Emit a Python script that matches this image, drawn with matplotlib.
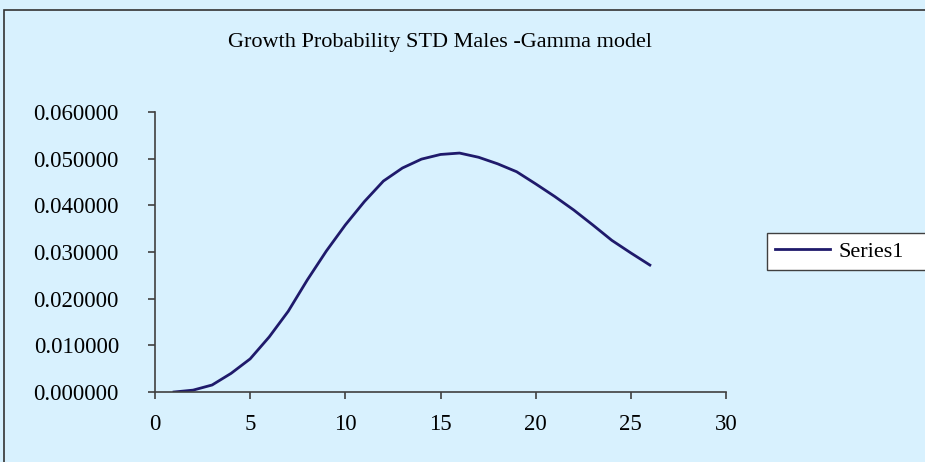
import matplotlib
matplotlib.use("Agg")
import matplotlib.pyplot as plt
from matplotlib.patches import Rectangle

# values
x_values = list(range(1, 27))
series1 = [
    0.0000, 0.0004, 0.0015, 0.0040, 0.0071, 0.0118, 0.0173, 0.0240,
    0.0302, 0.0358, 0.0408, 0.0452, 0.0480, 0.0499, 0.0509, 0.0512,
    0.0503, 0.0489, 0.0472, 0.0446, 0.0419, 0.0390, 0.0358, 0.0325,
    0.0298, 0.0272,
]
x_ticks = [0, 5, 10, 15, 20, 25, 30]
y_ticks = [0.0, 0.01, 0.02, 0.03, 0.04, 0.05, 0.06]

BG = "#D8F1FE"
LINE = "#1F1A6B"

plt.rcParams["font.family"] = ["Liberation Serif", "DejaVu Serif"]

fig = plt.figure(figsize=(9.25, 4.62), dpi=100, facecolor=BG)

# outer chart frame (cut off on the right and bottom, as in the reference)
fig.patches.append(Rectangle((4 / 925, -0.05), 1.0, 1 - 10 / 462 + 0.05,
                             transform=fig.transFigure, fill=False,
                             edgecolor="#333333", linewidth=1.2))

ax = fig.add_axes([155 / 925, 1 - 392 / 462, (726 - 155) / 925, (392 - 112) / 462])
ax.set_facecolor(BG)

ax.plot(x_values, series1, color=LINE, linewidth=2.0, label="Series1")

ax.set_xlim(0, 30)
ax.set_ylim(0, 0.06)
ax.set_xticks(x_ticks)
ax.set_yticks(y_ticks)
ax.set_yticklabels([f"{v:.6f}" for v in y_ticks])

for side in ("top", "right"):
    ax.spines[side].set_visible(False)
for side in ("left", "bottom"):
    ax.spines[side].set_color("#404040")
    ax.spines[side].set_linewidth(1.2)

ax.tick_params(axis="both", labelsize=16.5, colors="#404040",
               labelcolor="black", length=5, width=1.2)
ax.tick_params(axis="x", pad=11)
ax.tick_params(axis="y", pad=21)

fig.text(440 / 925, 1 - 42 / 462, "Growth Probability STD Males -Gamma model",
         ha="center", va="center", fontsize=16)

leg = ax.legend(loc="center left",
                bbox_to_anchor=(767 / 925, 1 - 271 / 462, (945 - 767) / 925, 39 / 462),
                bbox_transform=fig.transFigure, mode="expand", fontsize=16,
                frameon=True, fancybox=False, framealpha=1.0, handlelength=2.5,
                handletextpad=0.35, borderpad=0.35, borderaxespad=0)
leg.get_frame().set_edgecolor("#404040")
leg.get_frame().set_facecolor("white")
leg.get_frame().set_linewidth(1.0)

fig.savefig("out.png", dpi=100, facecolor=BG)
